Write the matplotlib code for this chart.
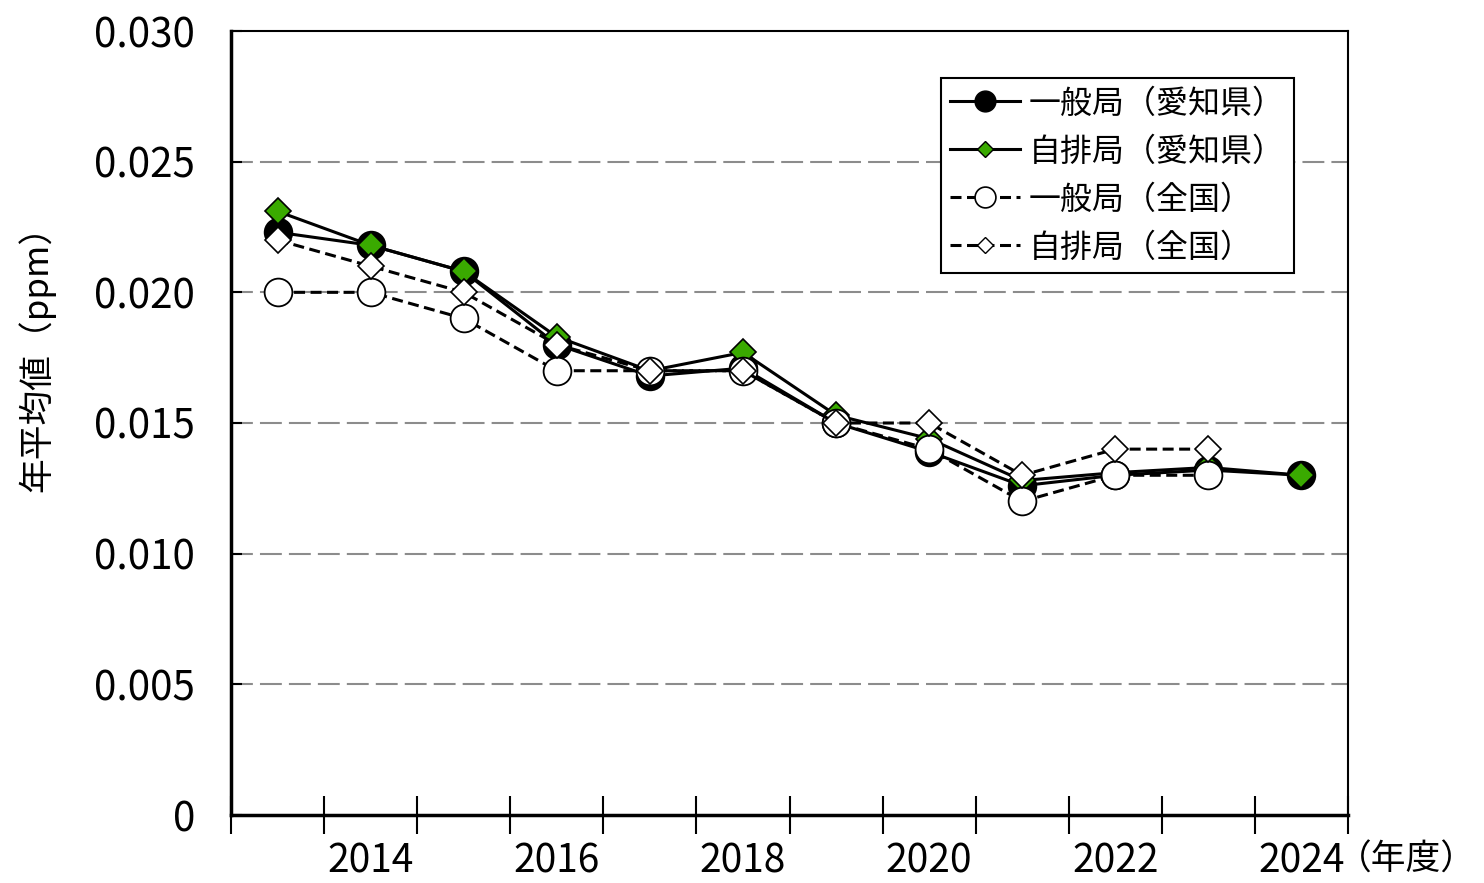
import numpy as np
import matplotlib
matplotlib.use("Agg")
import matplotlib.pyplot as plt
from matplotlib import font_manager
from matplotlib.lines import Line2D

plt.rcParams['font.family'] = ['Noto Sans CJK JP', 'DejaVu Sans']

# narrow font for the year labels if it is there
try:
    font_manager.findfont('Liberation Sans Narrow', fallback_to_default=False)
    year_font = ['Liberation Sans Narrow', 'Noto Sans CJK JP']
except Exception:
    year_font = ['Noto Sans CJK JP']

years = [2013, 2014, 2015, 2016, 2017, 2018, 2019, 2020, 2021, 2022, 2023, 2024]
ippan_aichi = [0.0223, 0.0218, 0.0208, 0.0180, 0.0168, 0.0171, 0.0150, 0.0139, 0.0126, 0.0130, 0.0132, 0.0130]
jihai_aichi = [0.0231, 0.0218, 0.0208, 0.0183, 0.0170, 0.0177, 0.0153, 0.0144, 0.0128, 0.0131, 0.0133, 0.0130]
ippan_zenkoku = [0.020, 0.020, 0.019, 0.017, 0.017, 0.017, 0.015, 0.014, 0.012, 0.013, 0.013, np.nan]
jihai_zenkoku = [0.022, 0.021, 0.020, 0.018, 0.017, 0.017, 0.015, 0.015, 0.013, 0.014, 0.014, np.nan]
labels = ['一般局（愛知県）', '自排局（愛知県）', '一般局（全国）', '自排局（全国）']
yticks = [0, 0.005, 0.010, 0.015, 0.020, 0.025, 0.030]

green = '#3aaa00'
x = np.arange(len(years))

fig = plt.figure(figsize=(14.84, 8.83), dpi=100)
ax = fig.add_axes([231/1484, 1 - 815/883, (1348 - 231)/1484, (815 - 31)/883])

for y in yticks[1:-1]:
    ax.axhline(y, color='#8c8c8c', lw=1.5, dashes=(10.5, 3.4), zorder=1)

dash = (3.6, 1.8)
ax.plot(x, ippan_aichi, '-', color='black', lw=2.2, marker='o', ms=20,
        mfc='black', mec='black', mew=1.2, zorder=3)
ax.plot(x, jihai_aichi, '-', color='black', lw=2.2, marker='D', ms=13.5,
        mfc=green, mec='black', mew=1.2, zorder=4)
ax.plot(x, ippan_zenkoku, '--', color='black', lw=2.2, dashes=dash, marker='o', ms=20,
        mfc='white', mec='black', mew=1.3, zorder=5)
ax.plot(x, jihai_zenkoku, '--', color='black', lw=2.2, dashes=dash, marker='D', ms=13.5,
        mfc='white', mec='black', mew=1.2, zorder=6)

ax.set_xlim(-0.5, len(years) - 0.5)
ax.set_ylim(0, 0.030)

ax.set_xticks(np.arange(-0.5, len(years), 1.0))
ax.set_xticklabels([])
ax.set_xticks(x[1::2], minor=True)
ax.set_xticklabels([str(v) for v in years[1::2]], minor=True,
                   fontsize=28, family=year_font)
ax.tick_params(axis='x', which='major', direction='inout', length=28, width=1.5, color='black')
ax.tick_params(axis='x', which='minor', length=0, pad=19)

ax.set_yticks(yticks)
ax.set_yticklabels(['0' if v == 0 else f'{v:.3f}' for v in yticks], fontsize=29)
ax.tick_params(axis='y', direction='in', length=8, width=1.5, pad=26)

for s in ['left', 'bottom']:
    ax.spines[s].set_linewidth(2.5)
for s in ['top', 'right']:
    ax.spines[s].set_linewidth(1.5)

ax.text(0.99, -0.057, '（年度）', transform=ax.transAxes, ha='left', va='center',
        fontsize=25)
fig.text(36/1484, 1 - 350/883, '年平均値（ppm）', rotation=90, ha='center', va='center',
         fontsize=25)

handles = [
    Line2D([], [], color='black', lw=2.2, marker='o', ms=15, mfc='black', mec='black'),
    Line2D([], [], color='black', lw=2.2, marker='D', ms=8.5, mfc=green, mec='black', mew=1),
    Line2D([], [], color='black', lw=2.2, dashes=dash, marker='o', ms=15, mfc='white', mec='black', mew=1.2),
    Line2D([], [], color='black', lw=2.2, dashes=dash, marker='D', ms=8.5, mfc='white', mec='black', mew=1),
]
leg = ax.legend(handles, labels, loc='upper right', bbox_to_anchor=(1294/1484, 1 - 78/883),
                bbox_transform=fig.transFigure, fontsize=23, frameon=True, fancybox=False,
                edgecolor='black', framealpha=1, borderpad=0.3, labelspacing=0.5,
                handlelength=2.2, handletextpad=0.25, borderaxespad=0)
leg.get_frame().set_linewidth(1.5)

fig.savefig('out.png', dpi=100)
